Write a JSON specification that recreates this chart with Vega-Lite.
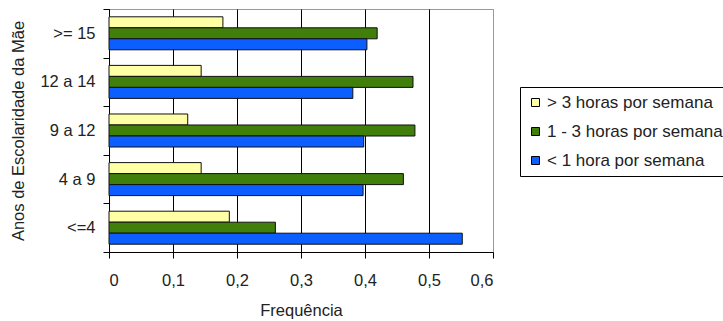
{
  "$schema": "https://vega.github.io/schema/vega-lite/v6.json",
  "width": 384,
  "height": 243,
  "autosize": {"type": "none"},
  "padding": {"left": 109, "top": 9, "right": 230, "bottom": 69},
  "background": "white",
  "config": {
    "font": "Liberation Sans",
    "view": {"stroke": "#999999", "strokeWidth": 1}
  },
  "data": {
    "values": [
      {"escolaridade": ">= 15", "tempo": "> 3 horas por semana", "freq": 0.178},
      {"escolaridade": ">= 15", "tempo": "1 - 3 horas por semana", "freq": 0.419},
      {"escolaridade": ">= 15", "tempo": "< 1 hora por semana", "freq": 0.403},
      {"escolaridade": "12 a 14", "tempo": "> 3 horas por semana", "freq": 0.144},
      {"escolaridade": "12 a 14", "tempo": "1 - 3 horas por semana", "freq": 0.475},
      {"escolaridade": "12 a 14", "tempo": "< 1 hora por semana", "freq": 0.381},
      {"escolaridade": "9 a 12", "tempo": "> 3 horas por semana", "freq": 0.123},
      {"escolaridade": "9 a 12", "tempo": "1 - 3 horas por semana", "freq": 0.478},
      {"escolaridade": "9 a 12", "tempo": "< 1 hora por semana", "freq": 0.398},
      {"escolaridade": "4 a 9", "tempo": "> 3 horas por semana", "freq": 0.144},
      {"escolaridade": "4 a 9", "tempo": "1 - 3 horas por semana", "freq": 0.46},
      {"escolaridade": "4 a 9", "tempo": "< 1 hora por semana", "freq": 0.397},
      {"escolaridade": "<=4", "tempo": "> 3 horas por semana", "freq": 0.188},
      {"escolaridade": "<=4", "tempo": "1 - 3 horas por semana", "freq": 0.26},
      {"escolaridade": "<=4", "tempo": "< 1 hora por semana", "freq": 0.552}
    ]
  },
  "mark": {"type": "bar", "stroke": "#111111", "strokeWidth": 1},
  "encoding": {
    "y": {
      "field": "escolaridade",
      "type": "nominal",
      "sort": [">= 15", "12 a 14", "9 a 12", "4 a 9", "<=4"],
      "scale": {"paddingInner": 0, "paddingOuter": 0},
      "axis": {
        "title": "Anos de Escolaridade da Mãe",
        "titleFontSize": 16.5,
        "titleFontWeight": "normal",
        "titleColor": "#222222",
        "titleX": -91,
        "titleY": 121.5,
        "titleAngle": 270,
        "titleAlign": "center",
        "titleBaseline": "middle",
        "labelFontSize": 16.5,
        "labelColor": "#222222",
        "labelPadding": 8,
        "tickBand": "extent",
        "tickSize": 6,
        "tickColor": "black",
        "domainColor": "black",
        "grid": false
      }
    },
    "yOffset": {
      "field": "tempo",
      "type": "nominal",
      "sort": ["> 3 horas por semana", "1 - 3 horas por semana", "< 1 hora por semana"],
      "scale": {"paddingInner": 0, "paddingOuter": 0.709}
    },
    "x": {
      "field": "freq",
      "type": "quantitative",
      "scale": {"domain": [0, 0.6], "nice": false},
      "axis": {
        "title": "Frequência",
        "titleFontSize": 16.5,
        "titleFontWeight": "normal",
        "titleColor": "#222222",
        "titleBaseline": "top",
        "titleY": 50,
        "values": [0, 0.1, 0.2, 0.3, 0.4, 0.5, 0.6],
        "labelExpr": "datum.value == 0 ? '0' : replace(format(datum.value, '.1f'), '.', ',')",
        "labelFontSize": 16.5,
        "labelColor": "#222222",
        "labelPadding": 14,
        "tickSize": 6,
        "tickColor": "black",
        "domainColor": "black",
        "grid": true,
        "gridColor": {"condition": {"test": "datum.value >= 0.59", "value": "#999999"}, "value": "black"},
        "gridOpacity": 1
      }
    },
    "color": {
      "field": "tempo",
      "type": "nominal",
      "scale": {
        "domain": ["> 3 horas por semana", "1 - 3 horas por semana", "< 1 hora por semana"],
        "range": ["#FFFFA6", "#407F0A", "#0D5EFF"]
      },
      "legend": {
        "title": null,
        "orient": "none",
        "legendX": 411,
        "legendY": 78,
        "strokeColor": "black",
        "fillColor": "white",
        "padding": 7,
        "symbolType": "square",
        "symbolSize": 64,
        "symbolStrokeColor": "black",
        "symbolStrokeWidth": 1,
        "symbolOpacity": 1,
        "labelFontSize": 17,
        "labelColor": "#222222",
        "labelOffset": 3,
        "rowPadding": 11,
        "labelLimit": 400
      }
    }
  }
}
